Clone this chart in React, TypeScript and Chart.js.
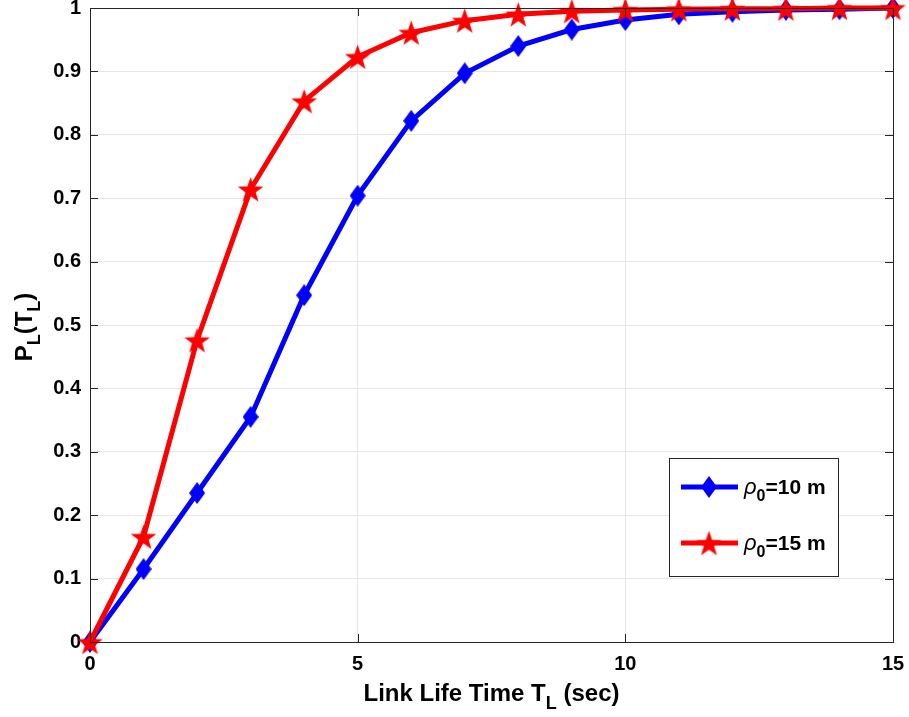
import React, { useEffect, useRef } from "react";
import { Chart, registerables } from "chart.js";

Chart.register(...registerables);

const xValues = [0, 1, 2, 3, 4, 5, 6, 7, 8, 9, 10, 11, 12, 13, 14, 15];
const blueValues = [0, 0.115, 0.235, 0.355, 0.547, 0.704, 0.822, 0.897, 0.94, 0.966, 0.981, 0.99, 0.994, 0.997, 0.998, 1.0];
const redValues = [0, 0.166, 0.476, 0.714, 0.853, 0.923, 0.961, 0.98, 0.99, 0.995, 0.997, 0.998, 0.999, 0.999, 1.0, 1.0];
const seriesNames = ["10 m", "15 m"];
const xTicks = [0, 5, 10, 15];
const yTicks = [0, 0.1, 0.2, 0.3, 0.4, 0.5, 0.6, 0.7, 0.8, 0.9, 1];

const BLUE = "#0000ff";
const RED = "#ff0000";
const AX = "#262626";
const FONT = "'Liberation Sans', Arial, Helvetica, sans-serif";

function makeDiamond(w: number, h: number, color: string) {
  const c = document.createElement("canvas");
  c.width = w;
  c.height = h;
  const g = c.getContext("2d")!;
  g.fillStyle = color;
  g.beginPath();
  g.moveTo(w / 2, 0);
  g.lineTo(w, h / 2);
  g.lineTo(w / 2, h);
  g.lineTo(0, h / 2);
  g.closePath();
  g.fill();
  return c;
}

function makeStar(size: number, color: string) {
  const c = document.createElement("canvas");
  c.width = size;
  c.height = size;
  const g = c.getContext("2d")!;
  const cx = size / 2;
  const cy = size / 2 + size * 0.05;
  const R = size / 2;
  const r = R * 0.4;
  g.fillStyle = color;
  g.beginPath();
  for (let i = 0; i < 10; i++) {
    const ang = -Math.PI / 2 + (i * Math.PI) / 5;
    const rad = i % 2 === 0 ? R : r;
    const px = cx + rad * Math.cos(ang);
    const py = cy + rad * Math.sin(ang);
    if (i === 0) g.moveTo(px, py);
    else g.lineTo(px, py);
  }
  g.closePath();
  g.fill();
  return c;
}

type Part = { t: string; font: string; dy?: number };

function drawParts(ctx: CanvasRenderingContext2D, parts: Part[], x: number, y: number) {
  let total = 0;
  const widths = parts.map((p) => {
    ctx.font = p.font;
    const w = ctx.measureText(p.t).width;
    total += w;
    return w;
  });
  let cx = x - total / 2;
  ctx.textBaseline = "alphabetic";
  ctx.textAlign = "left";
  parts.forEach((p, i) => {
    ctx.font = p.font;
    ctx.fillText(p.t, cx, y + (p.dy || 0));
    cx += widths[i];
  });
}

function drawPartsLeft(ctx: CanvasRenderingContext2D, parts: Part[], x: number, y: number) {
  let cx = x;
  ctx.textBaseline = "alphabetic";
  ctx.textAlign = "left";
  parts.forEach((p) => {
    ctx.font = p.font;
    ctx.fillText(p.t, cx, y + (p.dy || 0));
    cx += ctx.measureText(p.t).width;
  });
}

export default function App() {
  const ref = useRef<HTMLCanvasElement | null>(null);

  useEffect(() => {
    document.body.style.margin = "0";
    const canvas = ref.current!;
    const diamond = makeDiamond(16, 22, BLUE);
    const star = makeStar(27, RED);

    const framePlugin = {
      id: "frame",
      afterDraw(chart: any) {
        const ctx = chart.ctx as CanvasRenderingContext2D;
        const a = chart.chartArea;
        const xs = chart.scales.x;
        const ys = chart.scales.y;
        ctx.save();
        ctx.strokeStyle = AX;
        ctx.lineWidth = 1;
        ctx.strokeRect(Math.round(a.left) + 0.5, Math.round(a.top) + 0.5, Math.round(a.right - a.left), Math.round(a.bottom - a.top));
        const tl = 8;
        ctx.beginPath();
        yTicks.forEach((v) => {
          const py = Math.round(ys.getPixelForValue(v)) + 0.5;
          ctx.moveTo(a.left, py);
          ctx.lineTo(a.left + tl, py);
          ctx.moveTo(a.right, py);
          ctx.lineTo(a.right - tl, py);
        });
        xTicks.forEach((v) => {
          const px = Math.round(xs.getPixelForValue(v)) + 0.5;
          ctx.moveTo(px, a.bottom);
          ctx.lineTo(px, a.bottom - tl);
          ctx.moveTo(px, a.top);
          ctx.lineTo(px, a.top + tl);
        });
        ctx.stroke();

        // axis titles
        ctx.fillStyle = "#000000";
        const big = `bold 24px ${FONT}`;
        const small = `bold 18px ${FONT}`;
        drawParts(
          ctx,
          [
            { t: "Link Life Time T", font: big },
            { t: "L", font: small, dy: 8 },
            { t: " (sec)", font: big },
          ],
          (a.left + a.right) / 2,
          701
        );
        ctx.save();
        ctx.translate(32, (a.top + a.bottom) / 2 + 2);
        ctx.rotate(-Math.PI / 2);
        drawParts(
          ctx,
          [
            { t: "P", font: big },
            { t: "L", font: small, dy: 8 },
            { t: "(T", font: big },
            { t: "L", font: small, dy: 8 },
            { t: ")", font: big },
          ],
          0,
          0
        );
        ctx.restore();

        // legend
        const lx = 669, ly = 458, lw = 169, lh = 118;
        ctx.fillStyle = "#ffffff";
        ctx.fillRect(lx, ly, lw, lh);
        ctx.strokeStyle = AX;
        ctx.lineWidth = 1;
        ctx.strokeRect(lx + 0.5, ly + 0.5, lw, lh);
        const rows = [
          { color: BLUE, img: diamond, y: 487, name: seriesNames[0] },
          { color: RED, img: star, y: 543, name: seriesNames[1] },
        ];
        rows.forEach((r) => {
          ctx.strokeStyle = r.color;
          ctx.lineWidth = 5;
          ctx.beginPath();
          ctx.moveTo(681, r.y);
          ctx.lineTo(738, r.y);
          ctx.stroke();
          ctx.drawImage(r.img, 709 - r.img.width / 2, r.y - r.img.height / 2);
          ctx.fillStyle = "#000000";
          drawPartsLeft(
            ctx,
            [
              { t: "ρ", font: `italic 22px ${FONT}` },
              { t: "0", font: `bold 16px ${FONT}`, dy: 7 },
              { t: "=" + r.name, font: `bold 21px ${FONT}` },
            ],
            744,
            r.y + 7
          );
        });
        ctx.restore();
      },
    };

    const chart = new Chart(canvas, {
      type: "line",
      data: {
        datasets: [
          {
            label: "ρ0=" + seriesNames[0],
            data: xValues.map((x, i) => ({ x, y: blueValues[i] })),
            borderColor: BLUE,
            backgroundColor: BLUE,
            borderWidth: 5,
            pointStyle: diamond as any,
            pointRadius: 10,
            tension: 0,
            clip: false as any,
            order: 2,
          },
          {
            label: "ρ0=" + seriesNames[1],
            data: xValues.map((x, i) => ({ x, y: redValues[i] })),
            borderColor: RED,
            backgroundColor: RED,
            borderWidth: 5,
            pointStyle: star as any,
            pointRadius: 12,
            tension: 0,
            clip: false as any,
            order: 1,
          },
        ],
      },
      options: {
        responsive: false,
        animation: false,
        layout: { autoPadding: false, padding: { left: 0, top: 8, right: 16, bottom: 0 } },
        plugins: {
          legend: { display: false },
          tooltip: { enabled: false },
        },
        scales: {
          x: {
            type: "linear",
            min: 0,
            max: 15,
            afterBuildTicks: (s: any) => {
              s.ticks = xTicks.map((v) => ({ value: v }));
            },
            afterFit: (s: any) => {
              s.height = 75;
              s.paddingLeft = 0;
              s.paddingRight = 0;
            },
            ticks: {
              color: "#000000",
              font: { family: FONT, size: 20, weight: "bold" },
              padding: 10,
              maxRotation: 0,
              callback: (v: any) => String(v),
            },
            grid: { color: "#e6e6e6", lineWidth: 1, drawTicks: false },
            border: { display: false },
          },
          y: {
            type: "linear",
            min: 0,
            max: 1,
            afterBuildTicks: (s: any) => {
              s.ticks = yTicks.map((v) => ({ value: v }));
            },
            afterFit: (s: any) => {
              s.width = 90;
              s.paddingTop = 0;
              s.paddingBottom = 0;
            },
            ticks: {
              color: "#000000",
              font: { family: FONT, size: 20, weight: "bold" },
              padding: 9,
              callback: (v: any) => String(Number(Number(v).toFixed(1))),
            },
            grid: { color: "#e6e6e6", lineWidth: 1, drawTicks: false },
            border: { display: false },
          },
        },
      },
      plugins: [framePlugin],
    });
    return () => chart.destroy();
  }, []);

  return (
    <div style={{ width: 909, height: 717, background: "#fff" }}>
      <canvas ref={ref} width={909} height={717} style={{ display: "block" }} />
    </div>
  );
}
